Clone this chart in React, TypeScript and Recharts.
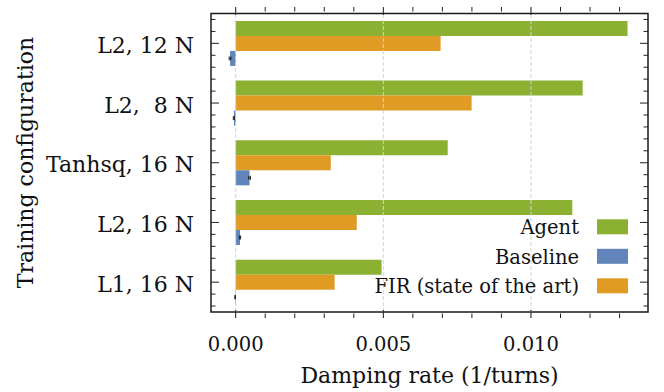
import React from "react";
import {
  BarChart,
  Bar,
  XAxis,
  YAxis,
  ReferenceLine,
  ReferenceArea,
  ErrorBar,
  Legend,
} from "recharts";

// ---- data ----
const categories = ["L2, 12 N", "L2,\u00A0\u00A08 N", "Tanhsq, 16 N", "L2, 16 N", "L1, 16 N"];
const agentValues = [0.01327, 0.01175, 0.00718, 0.0114, 0.00494];
const firValues = [0.00694, 0.00799, 0.00322, 0.0041, 0.00335];
const baselineValues = [-0.00019, -0.00006, 0.00047, 0.000146, -0.00002];
const baselineErrors = [0.00003, 0.00002, 0.00003, 0.00002, 0.00001];
const xTicks = [0, 0.001, 0.002, 0.003, 0.004, 0.005, 0.006, 0.007, 0.008, 0.009, 0.01, 0.011, 0.012, 0.013];
const xMajorTicks = [0, 0.005, 0.01];
const xDomain = [-0.000836, 0.013963];
const legendOrder = ["Agent", "Baseline", "FIR (state of the art)"];

const rows = categories.map((name, i) => ({
  name,
  agent: agentValues[i],
  fir: firValues[i],
  baseline: baselineValues[i],
  baselineErr: baselineErrors[i],
}));

// ---- layout ----
const W = 664;
const H = 392;
const MARGIN = { top: 7, right: 16, bottom: 0, left: 0 };
const YAXIS_W = 211;
const XAXIS_H = 74;
const PL = MARGIN.left + YAXIS_W;
const PR = W - MARGIN.right;
const PT = MARGIN.top;
const PB = H - MARGIN.bottom - XAXIS_H;
const PAD_TOP = 6.5;
const PAD_BOTTOM = 6;
const BAND = (PB - PT - PAD_TOP - PAD_BOTTOM) / categories.length;
const MINOR_STEP = BAND / 5;
const MAJ = 8;
const MIN = 4.5;
const FONT = "'DejaVu Serif', serif";
const TICK_COLOR = "#222";

const COLORS = { agent: "#8CB031", fir: "#E09B24", baseline: "#6185BA" };

function YTick(props: any) {
  const { y, payload } = props;
  const parts: any[] = [];
  parts.push(<line key="lm" x1={PL} x2={PL + MAJ} y1={y} y2={y} stroke={TICK_COLOR} strokeWidth={1} />);
  parts.push(<line key="rm" x1={PR} x2={PR - MAJ} y1={y} y2={y} stroke={TICK_COLOR} strokeWidth={1} />);
  [-2, -1, 1, 2].forEach((k) => {
    const yy = y + k * MINOR_STEP;
    if (yy > PT + 1 && yy < PB - 1) {
      parts.push(<line key={"l" + k} x1={PL} x2={PL + MIN} y1={yy} y2={yy} stroke={TICK_COLOR} strokeWidth={1} />);
      parts.push(<line key={"r" + k} x1={PR} x2={PR - MIN} y1={yy} y2={yy} stroke={TICK_COLOR} strokeWidth={1} />);
    }
  });
  return (
    <g>
      {parts}
      <text x={PL - 17} y={y + 9.5} textAnchor="end" fontSize={22} fontFamily={FONT} fill="#111">
        {payload.value}
      </text>
    </g>
  );
}

function XTick(props: any) {
  const { x, payload } = props;
  const v = payload.value;
  const major = xMajorTicks.some((m) => Math.abs(m - v) < 1e-9);
  const len = major ? MAJ : MIN;
  return (
    <g>
      <line x1={x} x2={x} y1={PB} y2={PB - len} stroke={TICK_COLOR} strokeWidth={1} />
      <line x1={x} x2={x} y1={PT} y2={PT + len} stroke={TICK_COLOR} strokeWidth={1} />
      {major ? (
        <text x={x} y={350.5} textAnchor="middle" fontSize={19.5} fontFamily={FONT} fill="#111">
          {v.toFixed(3)}
        </text>
      ) : null}
    </g>
  );
}

function XLabel(props: any) {
  const vb = props.viewBox || {};
  return (
    <text x={vb.x + vb.width / 2} y={383} textAnchor="middle" fontSize={22} fontFamily={FONT} fill="#111">
      Damping rate (1/turns)
    </text>
  );
}

function YLabel(props: any) {
  const vb = props.viewBox || {};
  const cy = vb.y + vb.height / 2;
  return (
    <text
      x={33}
      y={cy}
      transform={`rotate(-90, 33, ${cy})`}
      textAnchor="middle"
      fontSize={22}
      fontFamily={FONT}
      fill="#111"
    >
      Training configuration
    </text>
  );
}

function LegendContent(props: any) {
  const items = [...(props.payload || [])].sort(
    (a: any, b: any) => legendOrder.indexOf(a.value) - legendOrder.indexOf(b.value)
  );
  return (
    <svg width={W} height={H} style={{ display: "block" }}>
      {items.map((it: any, i: number) => (
        <g key={it.value}>
          <text x={579} y={234 + i * 29.5} textAnchor="end" fontSize={19.5} fontFamily={FONT} fill="#111">
            {it.value}
          </text>
          <rect x={597} y={219.3 + i * 29.5} width={31} height={15} fill={it.color} />
        </g>
      ))}
    </svg>
  );
}

export default function App() {
  return (
    <div style={{ position: "absolute", left: 0, top: 0, width: W, height: H, background: "#fff" }}>
      <BarChart
        width={W}
        height={H}
        data={rows}
        layout="vertical"
        margin={MARGIN}
        barCategoryGap="12.4%"
        barGap={0}
        style={{ fontFamily: FONT }}
      >
        <XAxis
          type="number"
          domain={xDomain}
          allowDataOverflow
          ticks={xTicks}
          interval={0}
          tick={<XTick />}
          tickLine={false}
          axisLine={false}
          height={XAXIS_H}
          label={<XLabel />}
        />
        <YAxis
          type="category"
          dataKey="name"
          width={YAXIS_W}
          interval={0}
          tick={<YTick />}
          tickLine={false}
          axisLine={false}
          padding={{ top: PAD_TOP, bottom: PAD_BOTTOM }}
          label={<YLabel />}
        />
        {xMajorTicks.map((t) => (
          <ReferenceLine key={t} x={t} stroke="#d4d4d4" strokeWidth={1} strokeDasharray="4 2" />
        ))}
        <Bar dataKey="agent" name="Agent" fill={COLORS.agent} isAnimationActive={false} />
        <Bar dataKey="fir" name="FIR (state of the art)" fill={COLORS.fir} isAnimationActive={false} />
        <Bar dataKey="baseline" name="Baseline" fill={COLORS.baseline} isAnimationActive={false}>
          <ErrorBar dataKey="baselineErr" direction="x" width={2} stroke="#222" strokeWidth={1} isAnimationActive={false} />
        </Bar>
        <ReferenceArea
          x1={xDomain[0]}
          x2={xDomain[1]}
          fill="none"
          fillOpacity={0}
          stroke="#1a1a1a"
          strokeWidth={1.5}
          ifOverflow="visible"
        />
        <Legend
          layout="vertical"
          align="center"
          verticalAlign="middle"
          content={<LegendContent />}
          wrapperStyle={{ position: "absolute", left: 0, top: 0, width: W, height: H, pointerEvents: "none" }}
        />
      </BarChart>
    </div>
  );
}
